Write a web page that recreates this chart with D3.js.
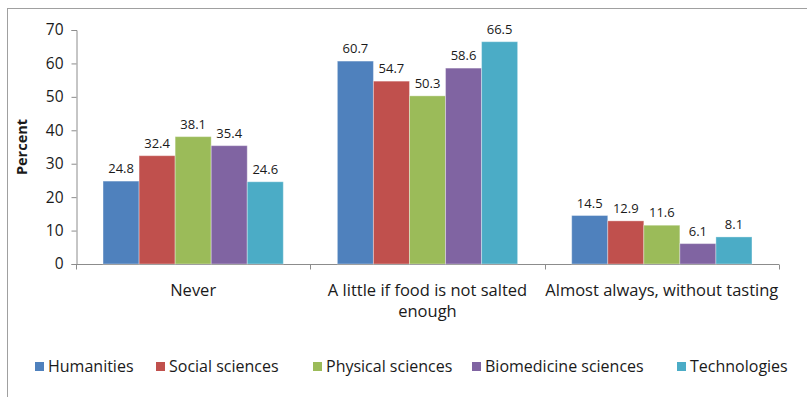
<!DOCTYPE html>
<html>
<head>
<meta charset="utf-8">
<script src="https://cdn.jsdelivr.net/npm/d3@7"></script>
<style>
  body{ margin:0; background:#fff; font-family:"Open Sans", Lato, sans-serif; }
  svg text{ fill:#1a1a1a; }
</style>
</head>
<body>
<div id="chart"></div>
<script>
var categories = [["Never"], ["A little if food is not salted", "enough"], ["Almost always, without tasting"]];
var series = ["Humanities", "Social sciences", "Physical sciences", "Biomedicine sciences", "Technologies"];
var colors = ["#4F81BD", "#C0504D", "#9BBB59", "#8064A2", "#4BACC6"];
var values = [
  [24.8, 32.4, 38.1, 35.4, 24.6],
  [60.7, 54.7, 50.3, 58.6, 66.5],
  [14.5, 12.9, 11.6, 6.1, 8.1]
];
var yTicks = [0, 10, 20, 30, 40, 50, 60, 70];
var legendX = [35, 156, 313, 472, 677];

var W = 807, H = 397;
var margin = {top: 30, left: 76, right: 28, bottom: 133};

var svg = d3.select("#chart").append("svg")
  .attr("width", W).attr("height", H);

// outer frame
svg.append("rect")
  .attr("x", 7.5).attr("y", 8.5)
  .attr("width", W + 10).attr("height", H + 10)
  .attr("fill", "none").attr("stroke", "#a0a0a0").attr("stroke-width", 1);

var x0 = d3.scaleBand().domain(d3.range(categories.length))
  .range([margin.left, W - margin.right]).paddingInner(0).paddingOuter(0);
var x1 = d3.scaleBand().domain(d3.range(series.length))
  .range([0, x0.bandwidth()]).paddingOuter(0.75).paddingInner(0);
var y = d3.scaleLinear().domain([0, 70]).range([H - margin.bottom, margin.top]);

// y axis
var yAx = svg.append("g")
  .attr("transform", "translate(" + (margin.left + 0.5) + ",0)")
  .call(d3.axisLeft(y).tickValues(yTicks).tickSize(5).tickPadding(8));
yAx.selectAll("text").style("font-size", "15.5px").style("font-family", "'Open Sans', sans-serif").attr("fill", "#1a1a1a");

// x axis (category boundaries as ticks)
var xAx = svg.append("g").attr("transform", "translate(0," + (y(0) + 0.5) + ")");
xAx.append("line").attr("x1", margin.left).attr("x2", W - margin.right);
var bounds = d3.range(categories.length + 1).map(function(i){
  return i < categories.length ? x0(i) : x0(i - 1) + x0.bandwidth();
});
xAx.selectAll(".bt").data(bounds).enter().append("line")
  .attr("x1", function(d){ return Math.round(d) + 0.5; })
  .attr("x2", function(d){ return Math.round(d) + 0.5; })
  .attr("y1", 0).attr("y2", 5);
svg.selectAll(".domain, .tick line, g line").attr("stroke", "#8c8c8c").attr("stroke-width", 1);

// category labels
categories.forEach(function(lines, i){
  var t = svg.append("text")
    .attr("x", x0(i) + x0.bandwidth() / 2)
    .attr("y", y(0) + 32)
    .attr("text-anchor", "middle")
    .style("font-size", "16.5px");
  lines.forEach(function(l, j){
    t.append("tspan").attr("x", x0(i) + x0.bandwidth() / 2).attr("dy", j ? 21 : 0).text(l);
  });
});

// bars
var groups = svg.selectAll(".grp").data(values).enter().append("g")
  .attr("transform", function(d, i){ return "translate(" + x0(i) + ",0)"; });

groups.selectAll("rect").data(function(d){ return d; }).enter().append("rect")
  .attr("x", function(d, j){ return x1(j); })
  .attr("y", function(d){ return y(d); })
  .attr("width", x1.bandwidth())
  .attr("height", function(d){ return y(0) - y(d); })
  .attr("fill", function(d, j){ return colors[j]; })
  .attr("stroke", "#ffffff").attr("stroke-opacity", 0.35).attr("stroke-width", 1);

groups.selectAll(".lbl").data(function(d){ return d; }).enter().append("text")
  .attr("x", function(d, j){ return x1(j) + x1.bandwidth() / 2; })
  .attr("y", function(d){ return y(d) - 8; })
  .attr("text-anchor", "middle")
  .style("font-size", "13px")
  .text(function(d){ return d.toFixed(1); });

// y title
svg.append("text")
  .attr("transform", "translate(27," + ((y(0) + y(70)) / 2) + ") rotate(-90)")
  .attr("text-anchor", "middle")
  .style("font-size", "14.5px").style("font-weight", "bold")
  .text("Percent");

// legend
var leg = svg.selectAll(".leg").data(series).enter().append("g")
  .attr("transform", function(d, i){ return "translate(" + legendX[i] + ",367)"; });
leg.append("rect").attr("x", 0).attr("y", -5).attr("width", 9).attr("height", 9)
  .attr("fill", function(d, i){ return colors[i]; });
leg.append("text").attr("x", 13).attr("y", 5).style("font-size", "16px").text(function(d){ return d; });
</script>
</body>
</html>
